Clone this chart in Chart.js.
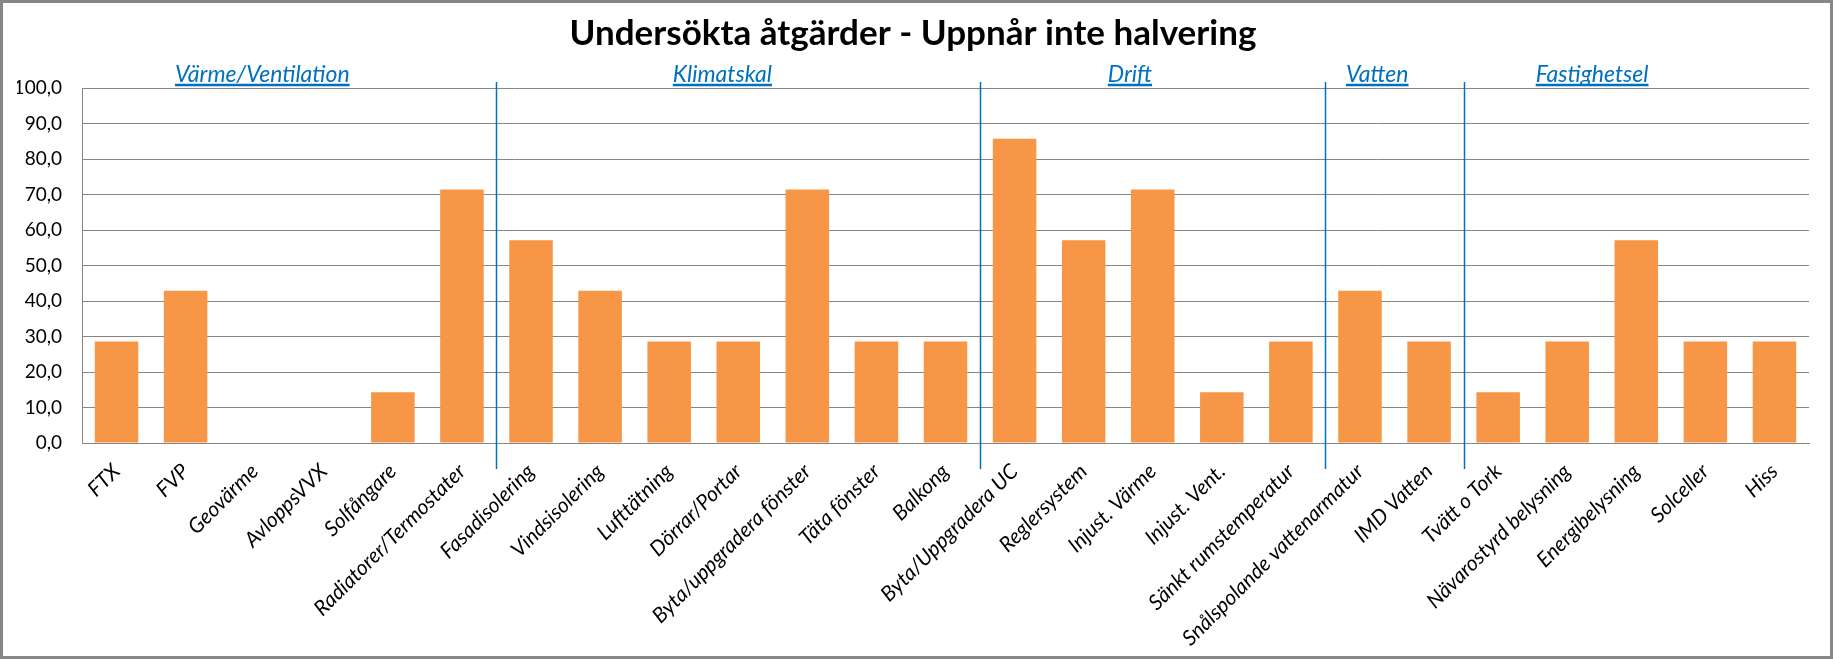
<!DOCTYPE html>
<html>
<head>
<meta charset="utf-8">
<script src="https://cdn.jsdelivr.net/npm/chart.js@4/dist/chart.umd.min.js"></script>
<style>
  html, body { margin: 0; padding: 0; background: #fff; }
  #wrap { width: 1833px; height: 659px; position: relative; }
</style>
</head>
<body>
<div id="wrap"><canvas id="chart"></canvas></div>
<script>
const categories = [
  'FTX', 'FVP', 'Geovärme', 'AvloppsVVX', 'Solfångare', 'Radiatorer/Termostater',
  'Fasadisolering', 'Vindsisolering', 'Lufttätning', 'Dörrar/Portar', 'Byta/uppgradera fönster', 'Täta fönster', 'Balkong',
  'Byta/Uppgradera UC', 'Reglersystem', 'Injust. Värme', 'Injust. Vent.', 'Sänkt rumstemperatur',
  'Snålspolande vattenarmatur', 'IMD Vatten',
  'Tvätt o Tork', 'Nävarostyrd belysning', 'Energibelysning', 'Solceller', 'Hiss'
];
const values = [
  28.6, 42.9, 0, 0, 14.3, 71.4,
  57.1, 42.9, 28.6, 28.6, 71.4, 28.6, 28.6,
  85.7, 57.1, 71.4, 14.3, 28.6,
  42.9, 28.6,
  14.3, 28.6, 57.1, 28.6, 28.6
];
const groupNames = ['Värme/Ventilation', 'Klimatskal', 'Drift', 'Vatten', 'Fastighetsel'];
const groupSizes = [6, 7, 5, 2, 5];

const FONT = 'Lato, "Open Sans", sans-serif';
const BLUE = '#0070C0';

// frame round the whole chart
const framePlugin = {
  id: 'frame',
  beforeDraw(chart) {
    const { ctx, width, height } = chart;
    ctx.save();
    ctx.fillStyle = '#fff';
    ctx.fillRect(0, 0, width, height);
    ctx.restore();
  },
  afterDraw(chart) {
    const { ctx, width, height } = chart;
    ctx.save();
    ctx.strokeStyle = '#868686';
    ctx.lineWidth = 3;
    ctx.strokeRect(1.5, 1.5, width - 3, height - 3);
    ctx.restore();
  }
};

// group headings and blue separator lines
const groupPlugin = {
  id: 'groups',
  afterDraw(chart, args, opts) {
    const { ctx, chartArea, scales: { x } } = chart;
    ctx.save();
    ctx.font = 'italic 23px ' + FONT;
    ctx.fillStyle = BLUE;
    ctx.strokeStyle = BLUE;
    ctx.textAlign = 'center';
    ctx.textBaseline = 'alphabetic';
    let start = 0;
    groupSizes.forEach((n, i) => {
      const end = start + n - 1;
      const cx = x.getPixelForValue((start + end) / 2 + opts.shift[i]);
      const ty = chartArea.top - 6;
      ctx.fillText(groupNames[i], cx, ty);
      const w = ctx.measureText(groupNames[i]).width;
      ctx.lineWidth = 2.5;
      ctx.beginPath();
      ctx.moveTo(cx - w / 2, ty + 3);
      ctx.lineTo(cx + w / 2, ty + 3);
      ctx.stroke();
      if (i < groupSizes.length - 1) {
        const bx = Math.round(x.getPixelForValue(end + 0.5)) + 0.5;
        ctx.lineWidth = 1.5;
        ctx.beginPath();
        ctx.moveTo(bx, chartArea.top - 6);
        ctx.lineTo(bx, chartArea.bottom + 26);
        ctx.stroke();
      }
      start += n;
    });
    ctx.restore();
  }
};

new Chart(document.getElementById('chart'), {
  type: 'bar',
  data: {
    labels: categories,
    datasets: [{
      label: 'Undersökta åtgärder',
      data: values,
      backgroundColor: '#F79646',
      borderWidth: 0,
      categoryPercentage: 1,
      barPercentage: 0.63
    }]
  },
  options: {
    responsive: true,
    maintainAspectRatio: false,
    animation: false,
    layout: { padding: { left: 17, right: 24, top: 0, bottom: 0 } },
    plugins: {
      legend: { display: false },
      tooltip: { enabled: false },
      title: {
        display: true,
        text: 'Undersökta åtgärder - Uppnår inte halvering',
        color: '#000',
        font: { family: FONT, size: 35, weight: 'bold', lineHeight: 1.2 },
        padding: { top: 13, bottom: 33 }
      },
      groups: { shift: [-0.39, -0.23, -0.33, -0.25, -0.64] }
    },
    scales: {
      x: {
        grid: { display: false, drawTicks: false },
        border: { color: '#868686', width: 1 },
        ticks: {
          color: '#000',
          font: { family: FONT, size: 21, style: 'italic' },
          minRotation: 45,
          maxRotation: 45,
          autoSkip: false,
          padding: 16
        },
        afterFit(scale) { scale.height = 216; }
      },
      y: {
        min: 0,
        max: 100,
        grid: { color: '#868686', drawTicks: false },
        border: { color: '#868686', width: 1 },
        ticks: {
          stepSize: 10,
          color: '#000',
          padding: 20,
          font: { family: FONT, size: 19 },
          callback: v => v.toFixed(1).replace('.', ',')
        },
        afterFit(scale) { scale.width = 65; }
      }
    }
  },
  plugins: [framePlugin, groupPlugin]
});
</script>
</body>
</html>
